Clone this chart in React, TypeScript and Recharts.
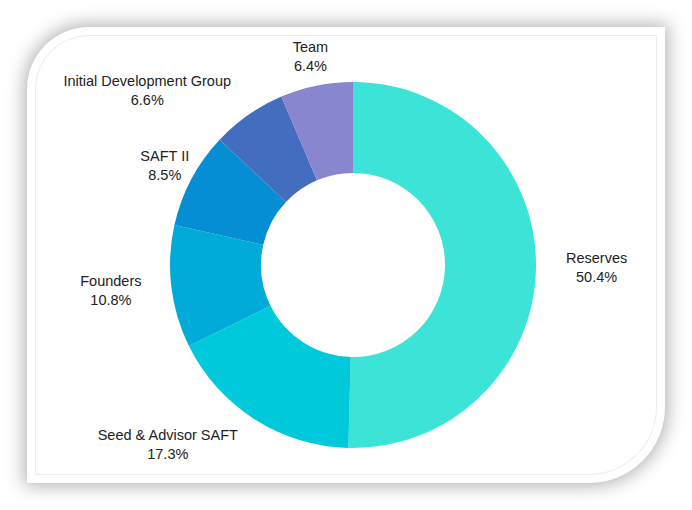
import { PieChart, Pie, Cell } from "recharts";

const categories = [
  "Reserves",
  "Seed & Advisor SAFT",
  "Founders",
  "SAFT II",
  "Initial Development Group",
  "Team",
];
const shares = [50.4, 17.3, 10.8, 8.5, 6.6, 6.4];

const COLORS = ["#3BE4D6", "#00C9DC", "#00ABD9", "#058ED3", "#436DBF", "#8886CE"];
// which side of the label block touches its anchor point: 1 = left edge, -1 = right edge, 0 = centred
const LABEL_SIDES = [1, -1, -1, 0, -1, 0];

const FONT_SIZE = 14.5;
const FONT_FAMILY = "'Liberation Sans', Arial, sans-serif";
const RADIAN = Math.PI / 180;

const data = categories.map((name, i) => ({ name, value: shares[i] }));

let ctx: CanvasRenderingContext2D | null = null;
function textWidth(s: string) {
  if (!ctx) ctx = document.createElement("canvas").getContext("2d");
  if (!ctx) return s.length * 7;
  ctx.font = `${FONT_SIZE}px ${FONT_FAMILY}`;
  return ctx.measureText(s).width;
}

function renderLabel(props: any) {
  const { cx, cy, midAngle, outerRadius, index } = props;
  const r = outerRadius + 30;
  const px = cx + r * Math.cos(-midAngle * RADIAN);
  const y = cy + r * Math.sin(-midAngle * RADIAN);
  const pct = shares[index].toFixed(1) + "%";
  const w = Math.max(textWidth(categories[index]), textWidth(pct));
  const x = px + (LABEL_SIDES[index] * w) / 2;
  return (
    <text
      x={x}
      y={y}
      textAnchor="middle"
      fill="#222"
      fontSize={FONT_SIZE}
      fontFamily={FONT_FAMILY}
    >
      <tspan x={x} dy={-4.75}>{categories[index]}</tspan>
      <tspan x={x} dy={19.5}>{pct}</tspan>
    </text>
  );
}

export default function App() {
  return (
    <div style={{ position: "absolute", left: 0, top: 0, width: 692, height: 510, background: "#fff" }}>
      <div
        style={{
          position: "absolute",
          left: 27,
          top: 27,
          width: 638,
          height: 456,
          background: "#fff",
          borderRadius: "62px 0 76px 0",
          boxShadow: "0 0 18px 3px rgba(0,0,0,0.3)",
        }}
      />
      <div
        style={{
          position: "absolute",
          left: 35,
          top: 35,
          width: 620,
          height: 438,
          border: "1px solid #ececec",
          borderRadius: "54px 0 68px 0",
        }}
      />
      <div style={{ position: "absolute", left: 0, top: 0 }}>
        <PieChart width={692} height={510} margin={{ top: 0, right: 0, bottom: 0, left: 0 }}>
          <Pie
            data={data}
            dataKey="value"
            nameKey="name"
            cx={353}
            cy={265}
            innerRadius={92}
            outerRadius={183}
            startAngle={90}
            endAngle={-270}
            stroke="none"
            label={renderLabel}
            labelLine={false}
            isAnimationActive={false}
          >
            {data.map((d, i) => (
              <Cell key={d.name} fill={COLORS[i]} />
            ))}
          </Pie>
        </PieChart>
      </div>
    </div>
  );
}
